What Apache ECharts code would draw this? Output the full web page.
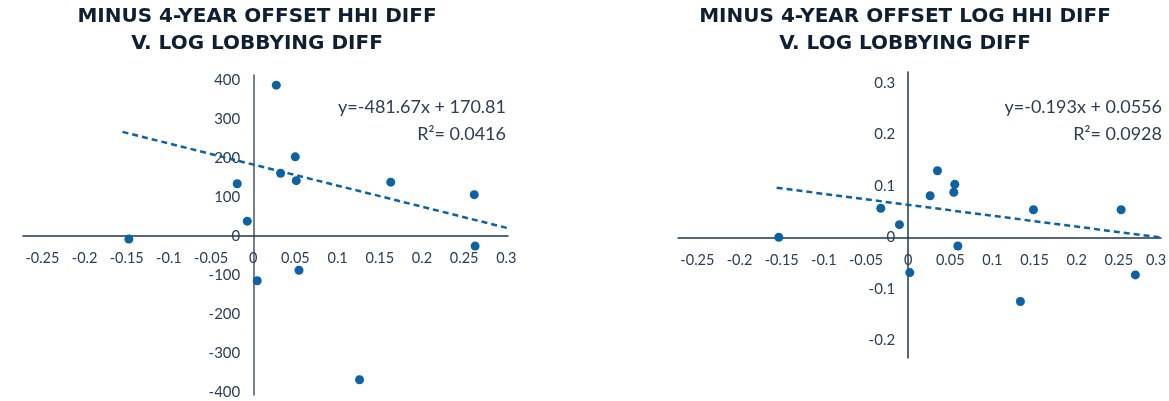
<!DOCTYPE html>
<html>
<head>
<meta charset="utf-8">
<script src="https://cdn.jsdelivr.net/npm/echarts@6/dist/echarts.min.js"></script>
<style>
html,body{margin:0;padding:0;background:#fff;}
#chart{width:1169px;height:401px;}
</style>
</head>
<body>
<div id="chart"></div>
<script>
// ---- Data ----
const leftTitle = "MINUS 4-YEAR OFFSET HHI DIFF\nV. LOG LOBBYING DIFF";
const rightTitle = "MINUS 4-YEAR OFFSET LOG HHI DIFF\nV. LOG LOBBYING DIFF";

const leftX = [0.0273, 0.0498, 0.0324, 0.051, -0.019, 0.163, 0.262, -0.0071, -0.1475, 0.263, 0.0047, 0.0542, 0.126];
const leftY = [387, 203, 161, 142, 134, 138, 106, 38, -8, -26, -115, -88, -369];
const leftTrendX = [-0.155, 0.302];
const leftTrendY = [267, 20];
const leftEquation = "y=-481.67x + 170.81";
const leftR2 = "R\u00B2= 0.0416";

const rightX = [0.0348, 0.0554, 0.0542, 0.0261, -0.0324, 0.1487, 0.2527, -0.0103, -0.1534, 0.059, 0.002, 0.2696, 0.1332];
const rightY = [0.1295, 0.1031, 0.0876, 0.081, 0.0566, 0.0539, 0.0539, 0.0248, 0.0004, -0.0165, -0.0682, -0.0727, -0.1244];
const rightTrendX = [-0.156, 0.299];
const rightTrendY = [0.0965, 0.0];
const rightEquation = "y=-0.193x + 0.0556";
const rightR2 = "R\u00B2= 0.0928";

const xTicks = [-0.25, -0.2, -0.15, -0.1, -0.05, 0, 0.05, 0.1, 0.15, 0.2, 0.25, 0.3];
const leftYTicks = [-400, -300, -200, -100, 0, 100, 200, 300, 400];
const rightYTicks = [-0.2, -0.1, 0, 0.1, 0.2, 0.3];

// ---- Styles ----
const pointColor = '#0b62a4';
const textColor = '#2c3e55';
const titleColor = '#0e1e33';
const labelFont = 'Lato';

function zip(a, b) { return a.map((v, i) => [v, b[i]]); }

function xAxis(gridIndex, min, max, nudgeLast) {
  return {
    type: 'value', gridIndex, min, max, position: 'bottom', offset: 0,
    axisLine: { show: true, onZero: false, lineStyle: { color: '#1f3557', width: 1.5 } },
    axisTick: { show: false },
    splitLine: { show: false },
    axisLabel: {
      customValues: xTicks, margin: 15, color: textColor, fontFamily: labelFont, fontSize: 14.5,
      formatter: v => (nudgeLast && v === xTicks[xTicks.length - 1]) ? '{e|' + v + '}' : String(v),
      rich: { e: { color: textColor, fontFamily: labelFont, fontSize: 14.5, padding: [0, 10, 0, 0] } }
    }
  };
}
function yAxis(gridIndex, min, max, ticks, lineColor) {
  return {
    type: 'value', gridIndex, min, max, position: 'left', offset: 0,
    axisLine: { show: true, onZero: false, lineStyle: { color: lineColor, width: 1.5 } },
    axisTick: { show: false },
    splitLine: { show: false },
    axisLabel: {
      customValues: ticks, margin: 13, color: textColor, fontFamily: labelFont, fontSize: 15,
      formatter: v => String(v)
    }
  };
}

const chart = echarts.init(document.getElementById('chart'), null, { renderer: 'canvas' });
const titleStyle = { color: titleColor, fontFamily: 'DejaVu Sans', fontWeight: 'bold', fontSize: 20, lineHeight: 27 };
const annoStyle = { fill: textColor, fontFamily: labelFont, fontSize: 18, textAlign: 'right', textVerticalAlign: 'middle' };

const grids = [
  { left: 23, top: 75, width: 485, height: 320, containLabel: false, outerBoundsMode: 'none' },
  { left: 678, top: 72, width: 483, height: 286, containLabel: false, outerBoundsMode: 'none' }
];

chart.setOption({
  animation: false,
  backgroundColor: '#ffffff',
  title: [
    { text: leftTitle, left: 257, top: 3, padding: 0, textAlign: 'center', textStyle: titleStyle },
    { text: rightTitle, left: 905, top: 3, padding: 0, textAlign: 'center', textStyle: titleStyle }
  ],
  grid: grids,
  xAxis: [xAxis(0, -0.273, 0.302, false), xAxis(1, -0.273, 0.3, true)],
  yAxis: [yAxis(0, -408, 413, leftYTicks, '#46566e'), yAxis(1, -0.2341, 0.3213, rightYTicks, '#1f3557')],
  series: [
    { type: 'line', xAxisIndex: 0, yAxisIndex: 0, data: zip(leftTrendX, leftTrendY), symbol: 'none', silent: true,
      lineStyle: { color: pointColor, width: 2.5, type: [6, 4] } },
    { type: 'scatter', xAxisIndex: 0, yAxisIndex: 0, data: zip(leftX, leftY), symbolSize: 9,
      itemStyle: { color: pointColor, opacity: 1 } },
    { type: 'line', xAxisIndex: 1, yAxisIndex: 1, data: zip(rightTrendX, rightTrendY), symbol: 'none', silent: true,
      lineStyle: { color: pointColor, width: 2.5, type: [6, 4] } },
    { type: 'scatter', xAxisIndex: 1, yAxisIndex: 1, data: zip(rightX, rightY), symbolSize: 9,
      itemStyle: { color: pointColor, opacity: 1 } }
  ],
  graphic: [
    { type: 'text', x: 506, y: 107, style: Object.assign({ text: leftEquation }, annoStyle) },
    { type: 'text', x: 506, y: 134, style: Object.assign({ text: leftR2 }, annoStyle) },
    { type: 'text', x: 1162, y: 107, style: Object.assign({ text: rightEquation }, annoStyle) },
    { type: 'text', x: 1162, y: 134, style: Object.assign({ text: rightR2 }, annoStyle) }
  ]
});

// Move the axes (line + labels) so they cross at the origin, via the library's own scales.
const xOff = [], yOff = [];
[0, 1].forEach(i => {
  const zero = chart.convertToPixel({ gridIndex: i }, [0, 0]);
  const g = grids[i];
  xOff.push({ offset: -((g.top + g.height) - zero[1]) });
  yOff.push({ offset: -(zero[0] - g.left) });
});
chart.setOption({ xAxis: xOff, yAxis: yOff });
</script>
</body>
</html>
